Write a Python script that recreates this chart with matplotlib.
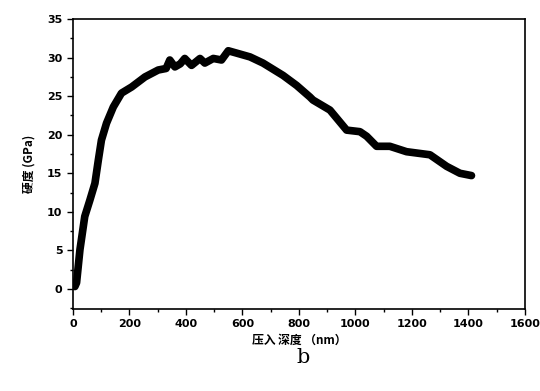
import matplotlib
matplotlib.use('Agg')
import matplotlib.pyplot as plt
from matplotlib.ticker import MultipleLocator

plt.rcParams['font.family'] = ['Noto Sans CJK SC', 'DejaVu Sans']

# indentation depth (nm) and hardness (GPa)
depth = [7, 13, 25, 42, 60, 78, 90, 101, 119, 143, 172, 208, 255, 302, 330,
         343, 361, 380, 396, 420, 450, 467, 497, 526, 550, 579, 627, 673, 744,
         792, 839, 850, 910, 969, 1016, 1040, 1075, 1122, 1181, 1264, 1323,
         1370, 1411]
hardness = [0.3, 0.8, 5.1, 9.4, 11.5, 13.7, 16.7, 19.3, 21.5, 23.6, 25.4, 26.2,
            27.5, 28.4, 28.6, 29.7, 28.8, 29.2, 29.9, 29.0, 29.9, 29.3, 29.9,
            29.7, 30.9, 30.6, 30.1, 29.3, 27.7, 26.4, 24.9, 24.5, 23.2, 20.6,
            20.4, 19.8, 18.5, 18.5, 17.8, 17.4, 15.9, 15.0, 14.7]

y_ticks = [0, 5, 10, 15, 20, 25, 30, 35]
x_ticks = [0, 200, 400, 600, 800, 1000, 1200, 1400, 1600]

fig = plt.figure(figsize=(5.4, 3.91), dpi=100)
ax = fig.add_axes([0.135, 0.210, 0.837, 0.741])

ax.plot(depth, hardness, color='black', lw=5.5, solid_capstyle='round',
        solid_joinstyle='round')

ax.set_xlim(0, 1600)
ax.set_ylim(-2.6, 35)
ax.set_xticks(x_ticks)
ax.set_yticks(y_ticks)
ax.xaxis.set_minor_locator(MultipleLocator(100))
ax.yaxis.set_minor_locator(MultipleLocator(2.5))
ax.tick_params(which='both', direction='out', top=False, right=False,
               labelsize=8, width=1)
ax.tick_params(which='major', length=4)
ax.tick_params(which='minor', length=2)
for lab in ax.get_xticklabels() + ax.get_yticklabels():
    lab.set_fontweight('bold')
    lab.set_family(['DejaVu Sans'])
for sp in ax.spines.values():
    sp.set_linewidth(1.2)

ax.set_xlabel('压入 深度 （nm）', fontsize=8.5, fontweight='bold', labelpad=3)
ax.set_ylabel('硬度 (GPa)', fontsize=8.5, fontweight='bold', labelpad=8)

fig.text(0.561, 0.085, 'b', fontsize=15, family=['DejaVu Serif'],
         ha='center', va='center')

fig.savefig('out.png', dpi=100)
